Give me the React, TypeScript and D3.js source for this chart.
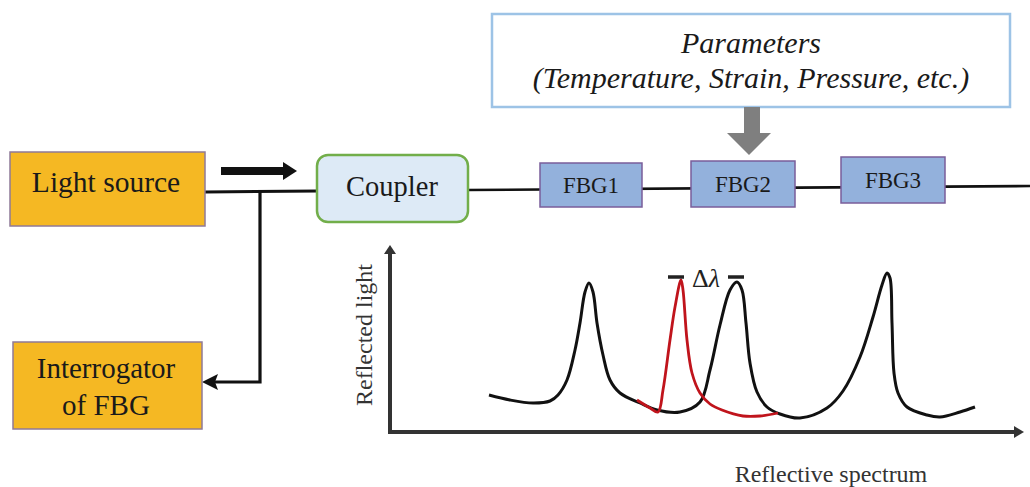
import React from "react";
import * as d3 from "d3";

// ---- data ----
const boxLabels = ["Light source", "Coupler", "FBG1", "FBG2", "FBG3"];
const interrogatorLabel = ["Interrogator", "of FBG"];
const paramLabels = ["Parameters", "(Temperature, Strain, Pressure, etc.)"];
const axisLabels = ["Reflected light", "Reflective spectrum"];
const shiftLabel = "Δ";
const shiftSymbol = "λ";

// black reflection spectrum (three FBG peaks), wavelength units vs reflected light
const blackX = [99, 120, 143, 160, 168, 177, 185, 190, 195, 199, 203, 207, 213, 220, 230, 250, 267, 290, 310, 320, 330, 340, 347, 352, 356, 360, 367, 377, 390, 410, 437, 453, 470, 483, 492, 497, 500, 502, 504, 508, 517, 537, 550, 570, 585];
const blackY = [37, 32, 29, 31, 37, 52, 82, 109, 140, 149, 140, 109, 77, 52, 39, 29, 22, 20, 30, 62, 107, 142, 150, 142, 109, 69, 40, 25, 18, 14, 24, 41, 75, 115, 147, 159, 154, 109, 59, 39, 25, 17, 15, 20, 25];
// red: shifted FBG2 peak
const redX = [247, 260, 268, 273, 280, 285, 291, 293, 297, 302, 310, 320, 332, 353, 370, 388];
const redY = [32, 24, 20, 42, 92, 125, 152, 142, 92, 59, 39, 28, 22, 16, 16, 19];
// wavelength marks of the Δλ shift
const shiftPeaks = [286, 346];

const W = 1030;
const H = 487;
const serif = "'Liberation Serif', 'Times New Roman', serif";

export default function App() {
  const x = d3.scaleLinear().domain([0, 640]).range([390, 1030]);
  const y = d3.scaleLinear().domain([0, 190]).range([432, 242]);
  const line = d3
    .line<[number, number]>()
    .x((d) => x(d[0]))
    .y((d) => y(d[1]))
    .curve(d3.curveCatmullRom.alpha(0.5));
  const black = blackX.map((v, i) => [v, blackY[i]] as [number, number]);
  const red = redX.map((v, i) => [v, redY[i]] as [number, number]);
  const peakTop = y(152) - 3;

  const orange = "#F5B823";
  const orangeStroke = "#8F7A98";
  const fbgFill = "#93B1DC";
  const fbgStroke = "#7A5E9A";
  const fbgs = [
    { x: 540, y: 163, w: 102, h: 44 },
    { x: 691, y: 161, w: 104, h: 46 },
    { x: 841, y: 157, w: 104, h: 46 },
  ];

  return (
    <div style={{ position: "fixed", left: 0, top: 0, width: W, height: H, background: "#fff" }}>
      <svg width={W} height={H} viewBox={`0 0 ${W} ${H}`} style={{ display: "block" }}>
        <rect width={W} height={H} fill="#fff" />

        {/* fiber lines */}
        <line x1={205} y1={192} x2={318} y2={191} stroke="#111" strokeWidth={3} />
        <line x1={466} y1={190} x2={1030} y2={186} stroke="#111" strokeWidth={2.6} />
        <path d="M260,191 L260,382 L214,382" fill="none" stroke="#111" strokeWidth={3.2} />
        <path d="M202,382 L218,374 L215,382 L218,390 Z" fill="#111" />

        {/* top black arrow */}
        <rect x={221} y={167} width={65} height={8} fill="#111" />
        <path d="M283,162 L297,171 L283,180 Z" fill="#111" />

        {/* Light source */}
        <rect x={10} y={152} width={195} height={74} fill={orange} stroke={orangeStroke} strokeWidth={1.5} />
        <text x={106} y={192} textAnchor="middle" fontFamily={serif} fontSize={29.5} fill="#1a1a1a">
          {boxLabels[0]}
        </text>

        {/* Interrogator */}
        <rect x={13} y={342} width={189} height={87} fill={orange} stroke={orangeStroke} strokeWidth={1.5} />
        <text x={106} y={378} textAnchor="middle" fontFamily={serif} fontSize={29} fill="#1a1a1a">
          {interrogatorLabel[0]}
        </text>
        <text x={106} y={415} textAnchor="middle" fontFamily={serif} fontSize={29} fill="#1a1a1a">
          {interrogatorLabel[1]}
        </text>

        {/* Coupler */}
        <rect x={317} y={155} width={151} height={67} rx={11} ry={11} fill="#DDEAF6" stroke="#72AE4A" strokeWidth={2.5} />
        <text x={392} y={196} textAnchor="middle" fontFamily={serif} fontSize={28.5} fill="#1a1a1a">
          {boxLabels[1]}
        </text>

        {/* FBGs */}
        {fbgs.map((b, i) => (
          <g key={i}>
            <rect x={b.x} y={b.y} width={b.w} height={b.h} fill={fbgFill} stroke={fbgStroke} strokeWidth={1.5} />
            <text
              x={b.x + b.w / 2}
              y={b.y + b.h / 2 + 8}
              textAnchor="middle"
              fontFamily={serif}
              fontSize={23}
              fill="#1a1a1a"
            >
              {boxLabels[2 + i]}
            </text>
          </g>
        ))}

        {/* Parameters box */}
        <rect x={492} y={14} width={518} height={93} fill="#fff" stroke="#9DC3E6" strokeWidth={2.5} />
        <text x={751} y={53} textAnchor="middle" fontFamily={serif} fontStyle="italic" fontSize={30} fill="#1a1a1a">
          {paramLabels[0]}
        </text>
        <text x={751} y={88} textAnchor="middle" fontFamily={serif} fontStyle="italic" fontSize={30} fill="#1a1a1a">
          {paramLabels[1]}
        </text>
        {/* gray arrow */}
        <rect x={744} y={107} width={16} height={27} fill="#7F7F7F" />
        <path d="M727,133 L771,133 L749,155 Z" fill="#7F7F7F" />

        {/* spectrum axes */}
        <line x1={x(0)} y1={y(-1)} x2={x(0)} y2={252} stroke="#333" strokeWidth={4} />
        <path d={`M${x(0) - 6},254 L${x(0)},245 L${x(0) + 6},254 Z`} fill="#333" />
        <line x1={x(0) - 2} y1={y(0)} x2={1016} y2={y(0)} stroke="#333" strokeWidth={4} />
        <path d={`M1014,${y(0) - 6} L1024,${y(0)} L1014,${y(0) + 6} Z`} fill="#333" />

        <text
          transform={`translate(372,335) rotate(-90)`}
          textAnchor="middle"
          fontFamily={serif}
          fontSize={24}
          fill="#333"
        >
          {axisLabels[0]}
        </text>
        <text x={831} y={482} textAnchor="middle" fontFamily={serif} fontSize={24} fill="#333">
          {axisLabels[1]}
        </text>

        {/* curves */}
        <path d={line(black) || ""} fill="none" stroke="#111" strokeWidth={3} strokeLinejoin="round" />
        <path d={line(red) || ""} fill="none" stroke="#C0141C" strokeWidth={2.8} strokeLinejoin="round" />

        {/* Δλ marker */}
        {shiftPeaks.map((p, i) => (
          <line key={i} x1={x(p) - 8} x2={x(p) + 8} y1={peakTop} y2={peakTop} stroke="#222" strokeWidth={3.5} />
        ))}
        <text x={692} y={287} fontFamily={serif} fontSize={26} fill="#222">
          {shiftLabel}
          <tspan fontStyle="italic">{shiftSymbol}</tspan>
        </text>
      </svg>
    </div>
  );
}
